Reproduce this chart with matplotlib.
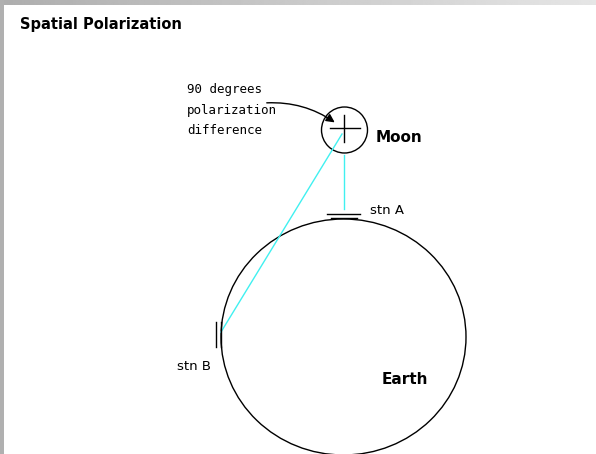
import numpy as np
import matplotlib.pyplot as plt
from matplotlib.patches import Ellipse, Circle, FancyArrowPatch

# diagram geometry (pixel units, y downwards)
earth_center = (343.5, 337)
earth_size = (245, 236)
moon_center = (344.5, 130)
moon_radius = 23
stn_a = (344, 214)
stn_b = (218, 334)

title = "Spatial Polarization"
note_lines = ["90 degrees", "polarization", "difference"]
labels = ["Moon", "Earth", "stn A", "stn B"]

fig = plt.figure(figsize=(5.96, 4.54), dpi=100)
ax = fig.add_axes([0, 0, 1, 1])
ax.set_xlim(0, 596)
ax.set_ylim(454, 0)
ax.axis("off")

# gray frame: gradient on top, solid strip on the left
grad = np.linspace(0.68, 0.9, 256).reshape(1, -1)
ax.imshow(grad, cmap="gray", vmin=0, vmax=1, extent=(0, 596, 5, 0), aspect="auto", zorder=0)
ax.add_patch(plt.Rectangle((0, 0), 4, 454, color="#b0b0b0", lw=0, zorder=1))

ax.text(20, 25, title, fontsize=10.5, fontweight="bold", va="center", ha="left")

# earth and moon
ax.add_patch(Ellipse(earth_center, earth_size[0], earth_size[1], fill=False, ec="black", lw=1.0))
ax.add_patch(Circle(moon_center, moon_radius, fill=False, ec="black", lw=1.0))
ax.plot([330, 360], [128, 128], color="black", lw=1.0)
ax.plot([344, 344], [115, 142], color="black", lw=1.0)

# signal paths
ax.plot([344, 344], [moon_center[1] + moon_radius + 2, stn_a[1] - 5], color="#40f0f0", lw=1.0)
ax.plot([342, stn_b[0] + 3], [134, stn_b[1] - 2], color="#40f0f0", lw=1.0)

# stations
ax.plot([327, 360], [stn_a[1], stn_a[1]], color="black", lw=1.0)
ax.plot([331, 357], [stn_a[1] + 4, stn_a[1] + 4], color="black", lw=1.0)
ax.plot([216, 216], [322, 347], color="black", lw=1.0)
ax.plot([221, 221], [322, 347], color="black", lw=1.0)

# annotation arrow
arrow = FancyArrowPatch((264, 103), (337, 124), connectionstyle="arc3,rad=-0.18",
                        arrowstyle="-|>,head_length=5,head_width=2.5", color="black", lw=1.0)
ax.add_patch(arrow)
for i, line in enumerate(note_lines):
    ax.text(187, 90 + i * 20.5, line, fontsize=9, family="DejaVu Sans Mono", va="center", ha="left")

ax.text(376, 138, labels[0], fontsize=11, fontweight="bold", va="center", ha="left")
ax.text(382, 380, labels[1], fontsize=11, fontweight="bold", va="center", ha="left")
ax.text(370, 211, labels[2], fontsize=9.5, va="center", ha="left")
ax.text(177, 366, labels[3], fontsize=9.5, va="center", ha="left")

fig.savefig("out.png", dpi=100)
